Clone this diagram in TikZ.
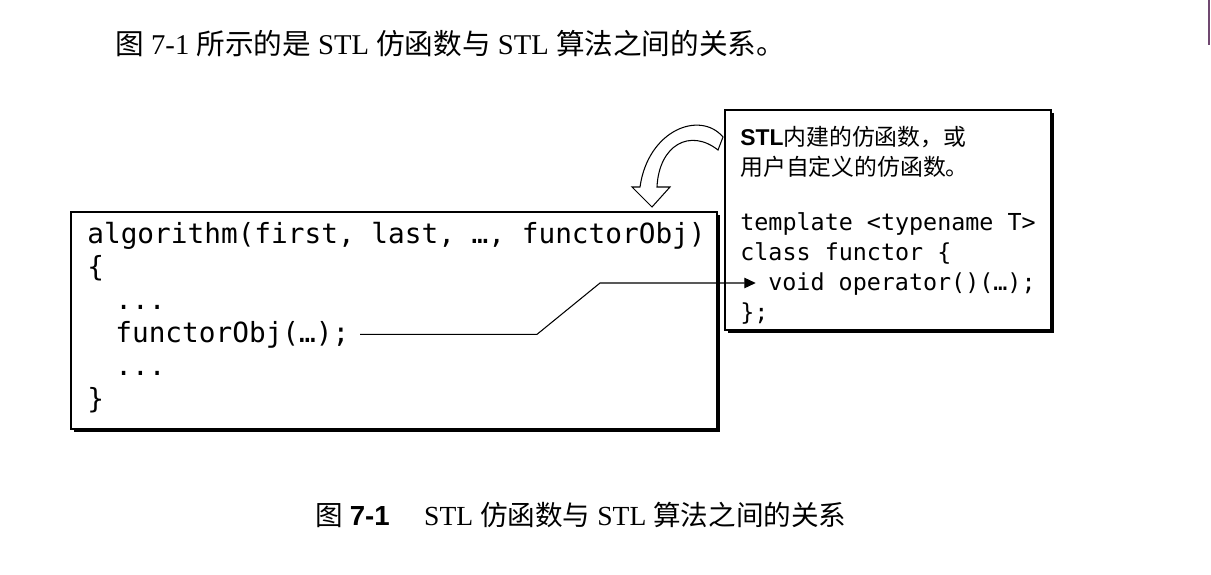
\documentclass[tikz,border=0pt]{standalone}
\usepackage{fontspec}
\usepackage{tikz}
\usetikzlibrary{arrows.meta,shadows}
\setmainfont{Liberation Serif}
\newfontfamily\cjk{Noto Sans CJK SC}
\newfontfamily\codefont{DejaVu Sans Mono}
\newfontfamily\capsans{Liberation Sans}
\definecolor{edgemark}{RGB}{112,72,112}
\tikzset{
  codebox/.style={draw, line width=0.6pt, fill=white,
    drop shadow={shadow xshift=1.5pt, shadow yshift=-1.5pt, fill=black, opacity=1}},
  bigcode/.style={anchor=base west, inner sep=0pt, font=\codefont\fontsize{15.8}{18}\selectfont},
  smallcode/.style={anchor=base west, inner sep=0pt, font=\codefont\fontsize{13.3}{15}\selectfont},
  note/.style={anchor=base west, inner sep=0pt, font=\cjk\fontsize{13}{15}\selectfont},
  bodytext/.style={anchor=base west, inner sep=0pt, font=\fontsize{16.3}{19}\selectfont},
  captext/.style={anchor=base west, inner sep=0pt, font=\fontsize{15.7}{18}\selectfont},
}
\begin{document}
\begin{tikzpicture}[x=0.02cm, y=-0.02cm]
  \useasboundingbox (0,0) rectangle (1211,575);
  \draw[edgemark, line width=1.2pt] (1209,0) -- (1209,45);
  \node[bodytext] (intro) at (115,54) {{\cjk 图} 7-1 {\cjk 所示的是} STL {\cjk 仿函数与} STL {\cjk 算法之间的关系。}};

  \draw[codebox] (71,212) rectangle (717,429);
  \node[bigcode] (algoline) at (87,243) {algorithm(first, last, …, functorObj)};
  \node[bigcode] (openbrace) at (87,276) {\{};
  \node[bigcode] (dotsA) at (115,309) {...};
  \node[bigcode] (callline) at (115,342) {functorObj(…);};
  \node[bigcode] (dotsB) at (115,375) {...};
  \node[bigcode] (closebrace) at (87,408) {\}};

  \draw[codebox] (725,110) rectangle (1051,330);
  \node[note] (descA) at (740,145) {{\capsans\bfseries STL}内建的仿函数，或};
  \node[note] (descB) at (740,175) {用户自定义的仿函数。};
  \node[smallcode] (tmplline) at (740,230) {template <typename T>};
  \node[smallcode] (classline) at (740,260) {class functor \{};
  \node[smallcode] (opline) at (768,290) {void operator()(…);};
  \node[smallcode] (endline) at (740,320) {\};};

  \draw[line width=0.6pt, fill=white] (723,137) .. controls (700,110) and (648,130) .. (640,187)
    -- (632,187) -- (652,207) -- (670,187) -- (657,187)
    .. controls (659,145) and (690,128) .. (718,150) -- cycle;

  \draw[line width=0.6pt, -{Triangle[length=6.5pt,width=6pt]}, shorten <=6pt, shorten >=7pt]
    (callline.east) -- (callline.east -| 537,0) -- (600,283) -- (opline.west |- 0,283);

  \node[captext] (caption) at (315,525) {{\cjk 图} {\capsans\bfseries 7-1}\quad\ STL {\cjk 仿函数与} STL {\cjk 算法之间的关系}};
\end{tikzpicture}
\end{document}
